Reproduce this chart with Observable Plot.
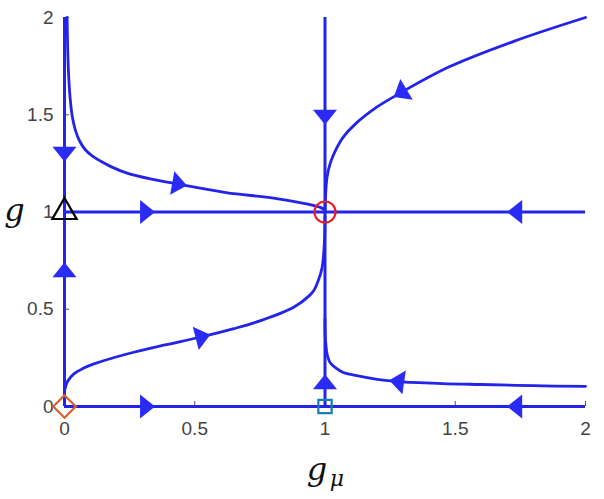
<!DOCTYPE html>
<html>
<head>
<meta charset="utf-8">
<script src="https://cdn.jsdelivr.net/npm/d3@7"></script>
<script src="https://cdn.jsdelivr.net/npm/@observablehq/plot@0.6"></script>
<style>
  html, body { margin: 0; padding: 0; background: #fff; }
  #chart svg { display: block; }
</style>
</head>
<body>
<div id="chart"></div>
<script>
// ---- data ----
const gmuDomain = [0, 2];
const gDomain = [0, 2];
const xTicks = [0, 0.5, 1, 1.5, 2];
const yTicks = [0, 0.5, 1, 1.5, 2];
const xTickLabels = ["0", "0.5", "1", "1.5", "2"];
const yTickLabels = ["0", "0.5", "1", "1.5", "2"];
const xLabel = "g";
const xLabelSub = "μ";
const yLabel = "g";

// invariant straight lines
const verticalAt = [0, 1];    // g_mu = const, spanning g
const horizontalAt = [0, 1];  // g = const, spanning g_mu

// curved trajectories
const curveA_gmu = [0.010, 0.012, 0.016, 0.022, 0.030, 0.042, 0.058, 0.080, 0.105, 0.138, 0.18, 0.24, 0.33, 0.43, 0.62, 0.82, 0.98, 1.0];
const curveA_g   = [2.0, 1.85, 1.70, 1.58, 1.49, 1.42, 1.365, 1.32, 1.29, 1.262, 1.232, 1.200, 1.170, 1.145, 1.10, 1.068, 1.025, 1.01];
const curveB_gmu = [0.002, 0.012, 0.036, 0.07, 0.113, 0.24, 0.38, 0.52, 0.65, 0.75, 0.88, 0.94, 0.957, 0.975, 0.989, 0.998, 1.0];
const curveB_g   = [0.09, 0.13, 0.168, 0.195, 0.219, 0.27, 0.315, 0.356, 0.40, 0.44, 0.51, 0.57, 0.596, 0.65, 0.716, 0.85, 0.98];
const curveC_gmu = [1.0, 1.002, 1.008, 1.02, 1.04, 1.07, 1.117, 1.2, 1.283, 1.475, 1.73, 2.0];
const curveC_g   = [1.0, 1.08, 1.18, 1.25, 1.316, 1.385, 1.453, 1.54, 1.607, 1.745, 1.88, 2.0];
const curveD_gmu = [1.0, 1.001, 1.004, 1.008, 1.02, 1.04, 1.07, 1.117, 1.2, 1.283, 1.45, 1.60, 1.8, 2.0];
const curveD_g   = [0.45, 0.36, 0.31, 0.27, 0.225, 0.20, 0.175, 0.16, 0.14, 0.128, 0.118, 0.113, 0.107, 0.103];

// flow arrows: position and a downstream point giving the direction
const arrowGmu  = [0, 0, 1, 1, 0.317, 1.73, 0.317, 1.73, 0.44, 0.53, 1.29, 1.277];
const arrowG    = [1.30, 0.70, 1.49, 0.125, 1, 1, 0, 0, 1.143, 0.359, 1.612, 0.129];
const arrowToGmu = [0, 0, 1, 1, 0.4, 1.6, 0.4, 1.6, 0.62, 0.65, 1.2, 1.117];
const arrowToG   = [1.2, 0.8, 1.4, 0.2, 1, 1, 0, 0, 1.10, 0.40, 1.54, 0.16];

// fixed points
const fixedGmu  = [0, 1, 0, 1];
const fixedG    = [1, 1, 0, 0];
const fixedKind = ["triangle", "circle", "diamond", "square"];

// ---- build ----
const blue = "#2323ea";
const arrowBlue = "#2b2bf7";
const kindColor = {triangle: "#000000", circle: "#e5202a", diamond: "#d95f2a", square: "#1a7db3"};
const kindR = {triangle: 9, circle: 10.5, diamond: 9, square: 7.5};
const kindSymbol = {triangle: "triangle", circle: "circle", diamond: "square", square: "square"};
const kindRotate = {triangle: 0, circle: 0, diamond: 45, square: 0};

const base = {
  width: 604, height: 499,
  marginLeft: 64, marginRight: 19, marginTop: 17, marginBottom: 93,
  x: {domain: gmuDomain},
  y: {domain: gDomain},
  style: {fontFamily: "'Liberation Sans', Arial, sans-serif", background: "#fff"}
};
const probe = Plot.plot({...base, marks: []});
const sx = probe.scale("x"), sy = probe.scale("y");

const toPts = (xs, ys) => xs.map((x, i) => ({gmu: x, g: ys[i]}));
const curves = [
  toPts(curveA_gmu, curveA_g),
  toPts(curveB_gmu, curveB_g),
  toPts(curveC_gmu, curveC_g),
  toPts(curveD_gmu, curveD_g)
];
const vLines = verticalAt.map(v => ({x: v, y1: gDomain[0], y2: gDomain[1]}));
const hLines = horizontalAt.map(v => ({y: v, x1: gmuDomain[0], x2: gmuDomain[1]}));

const arrows = arrowGmu.map((x, i) => {
  const dx = sx.apply(arrowToGmu[i]) - sx.apply(x);
  const dy = sy.apply(arrowToG[i]) - sy.apply(arrowG[i]);
  return {gmu: x, g: arrowG[i], rot: Math.atan2(dx, -dy) * 180 / Math.PI};
});
const arrowHead = {
  draw(ctx) {
    ctx.moveTo(0, -8);
    ctx.lineTo(12, 7);
    ctx.lineTo(-12, 7);
    ctx.closePath();
  }
};
const fixed = fixedGmu.map((x, i) => ({gmu: x, g: fixedG[i], kind: fixedKind[i]}));
const xFmt = v => xTickLabels[xTicks.indexOf(v)];
const yFmt = v => yTickLabels[yTicks.indexOf(v)];

const marks = [
  Plot.axisX({ticks: xTicks, tickFormat: xFmt, tickSize: -5, tickPadding: 20, stroke: "#555", fill: "#444", fontSize: 19, label: null}),
  Plot.axisY({ticks: yTicks, tickFormat: yFmt, tickSize: -5, tickPadding: 16, stroke: "#555", fill: "#444", fontSize: 19, label: null}),
  Plot.ruleX(vLines, {x: "x", y1: "y1", y2: "y2", stroke: blue, strokeWidth: 3}),
  Plot.ruleY(hLines, {y: "y", x1: "x1", x2: "x2", stroke: blue, strokeWidth: 3}),
  ...curves.map(c => Plot.line(c, {x: "gmu", y: "g", stroke: blue, strokeWidth: 2.8, curve: "catmull-rom"})),
  Plot.dot(arrows, {x: "gmu", y: "g", symbol: arrowHead, rotate: "rot", fill: arrowBlue, stroke: "none", r: 8}),
  ...fixedKind.map(k => Plot.dot(fixed.filter(d => d.kind === k), {
    x: "gmu", y: "g", symbol: kindSymbol[k], rotate: kindRotate[k], r: kindR[k], stroke: kindColor[k], strokeWidth: 2.2, fill: "none"
  })),
  Plot.text([yLabel], {frameAnchor: "left", dx: -50, dy: 8.5, lineAnchor: "bottom", textAnchor: "middle",
    fontFamily: "'DejaVu Serif', serif", fontStyle: "italic", fontSize: 32, fill: "#111"}),
  Plot.text([xLabel], {frameAnchor: "bottom", dx: -8, dy: 73, lineAnchor: "bottom", textAnchor: "middle",
    fontFamily: "'DejaVu Serif', serif", fontStyle: "italic", fontSize: 32, fill: "#111"}),
  Plot.text([xLabelSub], {frameAnchor: "bottom", dx: 12, dy: 79, lineAnchor: "bottom", textAnchor: "middle",
    fontFamily: "'DejaVu Serif', serif", fontStyle: "italic", fontSize: 22, fill: "#111"})
];

const chart = Plot.plot({...base, marks});
document.getElementById("chart").appendChild(chart);
</script>
</body>
</html>
